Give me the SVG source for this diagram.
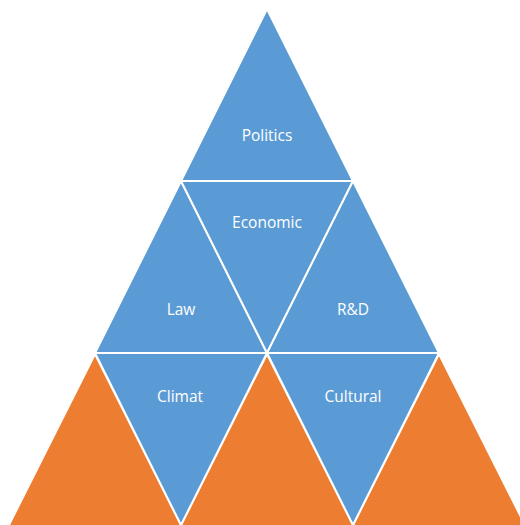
<svg xmlns="http://www.w3.org/2000/svg" width="520" height="525" viewBox="0 0 520 525">
<style>
.b{fill:#5B9BD5;stroke:#fff;stroke-width:2;stroke-linejoin:miter}
.o{fill:#ED7D31;stroke:#fff;stroke-width:2}
text{font-family:"Open Sans","Noto Sans",sans-serif;font-size:15.5px;fill:#fff;text-anchor:middle}
</style>
<rect width="520" height="525" fill="#fff"/>
<g id="orange-left"><polygon class="o" points="95,354 8,527 182,527"/></g>
<g id="orange-mid"><polygon class="o" points="267,354 180,527 354,527"/></g>
<g id="orange-right"><polygon class="o" points="439,354 352,527 526,527"/></g>
<g id="politics"><polygon class="b" points="267,9 181,181 353,181"/><text x="267" y="141">Politics</text></g>
<g id="law"><polygon class="b" points="181,181 95,353 267,353"/><text x="181" y="315">Law</text></g>
<g id="economic"><polygon class="b" points="181,181 353,181 267,353"/><text x="267" y="228">Economic</text></g>
<g id="rd"><polygon class="b" points="353,181 267,353 439,353"/><text x="353" y="315">R&amp;D</text></g>
<g id="climat"><polygon class="b" points="95,353 267,353 181,525"/><text x="180" y="402">Climat</text></g>
<g id="cultural"><polygon class="b" points="267,353 439,353 353,525"/><text x="353" y="402">Cultural</text></g>
<g id="connectors"></g>
</svg>
